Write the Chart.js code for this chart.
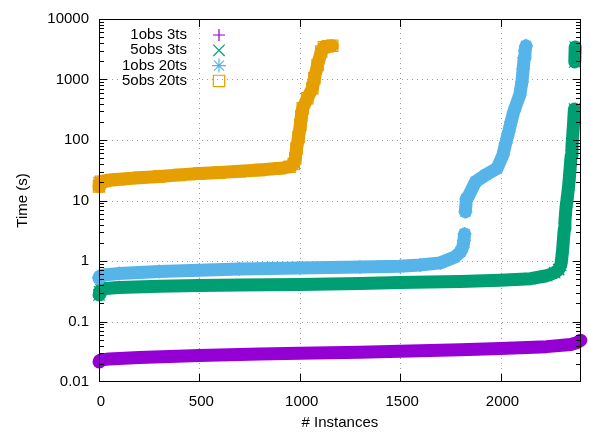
<!DOCTYPE html>
<html>
<head>
<meta charset="utf-8">
<title>Time per instance</title>
<script src="https://cdn.jsdelivr.net/npm/chart.js@4/dist/chart.umd.min.js"></script>
<style>
  html, body { margin: 0; padding: 0; background: #ffffff; }
  #wrap { position: relative; width: 590px; height: 432px; }
  #wrap canvas { position: absolute; left: 0; top: 0; display: block; }
  #over { pointer-events: none; }
</style>
</head>
<body>
<div id="wrap">
  <canvas id="under" width="590" height="432"></canvas>
  <canvas id="chart" width="590" height="432"></canvas>
  <canvas id="over" width="590" height="432"></canvas>
</div>
<script>
// Series names, colours and marker shapes
const seriesLabels  = ['1obs 3ts', '5obs 3ts', '1obs 20ts', '5obs 20ts'];
const seriesColors  = ['#9400d3', '#009e73', '#56b4e9', '#e69f00'];
const seriesMarkers = ['cross', 'crossRot', 'star', 'rect'];

// Axis ticks
const instTicks      = [0, 500, 1000, 1500, 2000];
const timeTicks      = [0.01, 0.1, 1, 10, 100, 1000, 10000];
const timeTickLabels = ['0.01', '0.1', '1', '10', '100', '1000', '10000'];

// 1obs 3ts: instances solved vs. time (s)
const inst1obs3ts = [0, 3, 10, 50, 200, 500, 800, 1000, 1300, 1500, 1800, 2000, 2230, 2350, 2380, 2400];
const time1obs3ts = [0.0215, 0.0225, 0.0232, 0.024, 0.0255, 0.0274, 0.029, 0.0298, 0.031, 0.0323, 0.0342, 0.0358, 0.0384, 0.0417, 0.0445, 0.049];

// 5obs 3ts
const inst5obs3ts = [0, 3, 10, 30, 100, 300, 500, 700, 1000, 1300, 1500, 1800, 2000, 2150, 2230, 2270, 2290, 2300, 2305, 2310, 2314, 2318, 2321, 2326, 2330, 2335, 2340, 2344, 2348, 2352, 2356, 2360, 2364, 2368, 2370, 2372];
const time5obs3ts = [0.275, 0.31, 0.335, 0.35, 0.365, 0.382, 0.394, 0.40, 0.409, 0.425, 0.441, 0.46, 0.482, 0.51, 0.57, 0.64, 0.72, 0.85, 1.1, 1.6, 2.4, 3.4, 4.5, 7.5, 9.5, 13, 18, 26, 38, 55, 80, 120, 190, 325, 1950, 3450];

// 1obs 20ts
const inst1obs20ts = [0, 3, 10, 30, 100, 300, 500, 700, 1000, 1300, 1500, 1600, 1700, 1770, 1800, 1812, 1818, 1821, 1825, 1830, 1843, 1876, 1926, 1983, 2012, 2026, 2041, 2053, 2066, 2096, 2107, 2113, 2118, 2122, 2127];
const time1obs20ts = [0.52, 0.55, 0.57, 0.59, 0.62, 0.67, 0.705, 0.735, 0.766, 0.795, 0.82, 0.86, 0.93, 1.15, 1.4, 1.7, 2.2, 2.8, 6.5, 10.6, 12.3, 20.5, 26.4, 34, 56.5, 89, 137, 201, 294, 555, 920, 1500, 2300, 3000, 3600];

// 5obs 20ts
const inst5obs20ts = [0, 3, 10, 30, 60, 100, 200, 300, 400, 500, 600, 700, 800, 900, 950, 970, 978, 984, 994, 1003, 1008, 1015, 1038, 1063, 1073, 1089, 1107, 1120, 1140, 1162];
const time5obs20ts = [17, 19.5, 20.5, 21, 21.8, 22.5, 23.8, 25, 26.5, 27.9, 29, 30.5, 32, 34, 36, 40, 50, 73, 112, 177, 250, 334, 489, 716, 1047, 1738, 2900, 3400, 3550, 3600];

const seriesInst = [inst1obs3ts, inst5obs3ts, inst1obs20ts, inst5obs20ts];
const seriesTime = [time1obs3ts, time5obs3ts, time1obs20ts, time5obs20ts];

const FONT_FAMILY = "'Liberation Sans', Arial, Helvetica, sans-serif";
const markerRadius = { cross: 6, crossRot: 8, star: 7, rect: 8 };

Chart.defaults.font.family = FONT_FAMILY;
Chart.defaults.font.size = 15;

const datasets = seriesLabels.map((label, i) => ({
  label: label,
  data: seriesInst[i].map((x, k) => ({ x: x, y: seriesTime[i][k] })),
  showLine: true,
  fill: false,
  tension: 0,
  borderColor: seriesColors[i],
  borderWidth: 13,
  borderCapStyle: 'round',
  borderJoinStyle: 'round',
  pointStyle: seriesMarkers[i],
  pointRadius: markerRadius[seriesMarkers[i]],
  pointHoverRadius: markerRadius[seriesMarkers[i]],
  pointBorderWidth: 1.2,
  pointBorderColor: seriesColors[i],
  pointBackgroundColor: 'rgba(0,0,0,0)',
  order: seriesLabels.length - i,
  clip: 8,
  // isolated markers far apart vertically are not joined into the band
  segment: {
    borderColor: ctx => Math.abs(ctx.p1.y - ctx.p0.y) > 18 ? 'rgba(0,0,0,0)' : undefined
  }
}));

function drawMarker(ctx, style, r, cx, cy) {
  const d = r * Math.SQRT1_2;
  ctx.beginPath();
  if (style === 'cross' || style === 'star') {
    ctx.moveTo(cx - r, cy); ctx.lineTo(cx + r, cy);
    ctx.moveTo(cx, cy - r); ctx.lineTo(cx, cy + r);
  }
  if (style === 'crossRot' || style === 'star') {
    ctx.moveTo(cx - d, cy - d); ctx.lineTo(cx + d, cy + d);
    ctx.moveTo(cx - d, cy + d); ctx.lineTo(cx + d, cy - d);
  }
  if (style === 'rect') {
    ctx.rect(cx - d, cy - d, 2 * d, 2 * d);
  }
  ctx.stroke();
}

// Key: right-aligned titles with the marker sample to their right
const gnuplotKey = {
  id: 'gnuplotKey',
  afterDraw(chart) {
    const ctx = chart.ctx;
    ctx.save();
    ctx.font = '15px ' + FONT_FAMILY;
    ctx.textAlign = 'right';
    ctx.textBaseline = 'middle';
    chart.data.datasets.forEach((ds, i) => {
      const yy = 35 + i * 15.3;
      ctx.fillStyle = '#000';
      ctx.fillText(ds.label, 187, yy);
      ctx.strokeStyle = ds.borderColor;
      ctx.lineWidth = 1.2;
      ctx.setLineDash([]);
      drawMarker(ctx, ds.pointStyle, ds.pointRadius, 219, yy);
    });
    ctx.restore();
  }
};

const chart = new Chart(document.getElementById('chart'), {
  type: 'scatter',
  data: { datasets: datasets },
  options: {
    responsive: false,
    animation: false,
    devicePixelRatio: 1,
    events: [],
    layout: { padding: { left: 0, right: 7, top: 19, bottom: 0 } },
    plugins: {
      legend: { display: false },
      tooltip: { enabled: false }
    },
    scales: {
      x: {
        type: 'linear',
        min: 0,
        max: 2400,
        afterBuildTicks: s => { s.ticks = instTicks.map(v => ({ value: v })); },
        afterFit: s => { s.height = 50; s.paddingLeft = 0; s.paddingRight = 0; },
        grid: { display: false, drawTicks: false },
        border: { display: false },
        ticks: {
          padding: 11,
          labelOffset: 2,
          maxRotation: 0,
          autoSkip: false,
          color: '#000',
          font: { size: 15 },
          callback: v => String(v)
        },
        title: {
          display: true,
          text: '# Instances',
          color: '#000',
          font: { size: 15 },
          padding: { top: 0, bottom: 0 }
        }
      },
      y: {
        type: 'logarithmic',
        min: 0.01,
        max: 10000,
        afterBuildTicks: s => { s.ticks = timeTicks.map(v => ({ value: v, major: true })); },
        afterFit: s => { s.width = 99; s.paddingTop = 0; s.paddingBottom = 0; },
        grid: { display: false, drawTicks: false },
        border: { display: false },
        ticks: {
          padding: 10,
          autoSkip: false,
          color: '#000',
          font: { size: 15 },
          callback: v => timeTickLabels[timeTicks.indexOf(v)]
        },
        title: {
          display: true,
          text: 'Time (s)',
          color: '#000',
          font: { size: 15 },
          padding: { top: 14, bottom: 0 }
        }
      }
    }
  },
  plugins: [gnuplotKey]
});

// Plot box from the two axes
const xs = chart.scales.x, ys = chart.scales.y;
const boxL = Math.round(xs.left), boxR = Math.round(xs.right) - 1;
const boxT = Math.round(ys.top), boxB = Math.round(ys.bottom) - 1;

// Border with inward major tics on all sides and log minor tics on y
function drawFrame(g) {
  g.fillStyle = '#000000';
  g.fillRect(boxL, boxT, boxR - boxL + 1, 1);
  g.fillRect(boxL, boxB, boxR - boxL + 1, 1);
  g.fillRect(boxL, boxT, 1, boxB - boxT + 1);
  g.fillRect(boxR, boxT, 1, boxB - boxT + 1);
  for (const v of instTicks) {
    const px = Math.round(xs.getPixelForValue(v));
    g.fillRect(px, boxB - 7, 1, 7);
    g.fillRect(px, boxT + 1, 1, 7);
  }
  for (const v of timeTicks) {
    const py = Math.min(boxB, Math.max(boxT, Math.round(ys.getPixelForValue(v))));
    g.fillRect(boxL + 1, py, 7, 1);
    g.fillRect(boxR - 7, py, 7, 1);
    if (v >= 10000) continue;
    for (let m = 2; m <= 9; m++) {
      const pm = Math.round(ys.getPixelForValue(m * v));
      g.fillRect(boxL + 1, pm, 4, 1);
      g.fillRect(boxR - 4, pm, 4, 1);
    }
  }
}

// Background layer: white page, dotted grid and the border
const under = document.getElementById('under').getContext('2d');
under.fillStyle = '#ffffff';
under.fillRect(0, 0, 590, 432);
under.fillStyle = '#9a9a9a';
for (const v of instTicks) {
  const px = Math.round(xs.getPixelForValue(v));
  if (px <= boxL + 1 || px >= boxR - 1) continue;
  for (let py = boxB - 3; py > boxT; py -= 5) under.fillRect(px, py, 1, 1);
}
for (const v of timeTicks) {
  const py = Math.round(ys.getPixelForValue(v));
  if (py <= boxT + 1 || py >= boxB - 1) continue;
  for (let px = boxL + 3; px < boxR; px += 5) under.fillRect(px, py, 1, 1);
}
drawFrame(under);

// Foreground layer: the border again, above the data
drawFrame(document.getElementById('over').getContext('2d'));
</script>
</body>
</html>
